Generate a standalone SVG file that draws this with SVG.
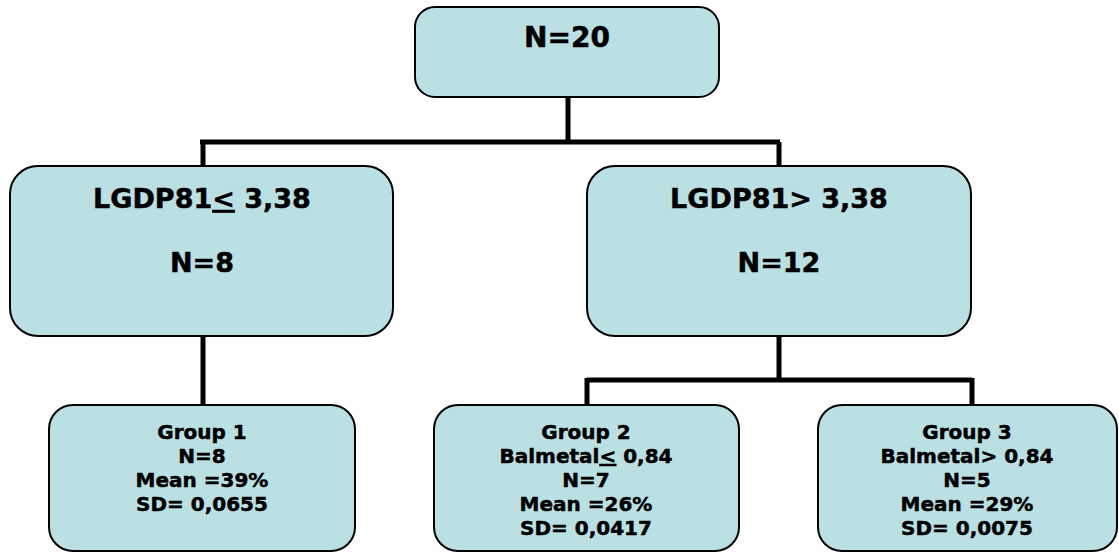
<svg xmlns="http://www.w3.org/2000/svg" width="1119" height="553" viewBox="0 0 1119 553">
<style>
.box{fill:#BBE0E3;stroke:#000;stroke-width:2}
.t{font-family:"DejaVu Sans","Verdana",sans-serif;font-weight:bold;fill:#000;stroke:#000;stroke-width:0.5;text-anchor:middle}
.big{font-size:28px}
.mid{font-size:27px}
.sm{font-size:20px}
.c{fill:none;stroke:#000;stroke-width:5;stroke-linecap:butt;stroke-linejoin:miter}
.u{text-decoration:underline}
</style>
<rect width="1119" height="553" fill="#fff"/>
<g id="connectors">
<path class="c" d="M568 97V142M200 142H780M203 142V166M779 142V166"/>
<path class="c" d="M203 336V405"/>
<path class="c" d="M779 336V380M587 380H972M587 378V405M972 378V405"/>
</g>
<g id="root">
<rect class="box" x="415" y="7" width="304" height="90" rx="20"/>
<text class="t big" x="567" y="47">N=20</text>
</g>
<g id="left">
<rect class="box" x="10" y="166" width="383" height="170" rx="28"/>
<text class="t mid" x="202" y="208">LGDP81<tspan class="u">&lt;</tspan> 3,38</text>
<text class="t mid" x="202" y="272">N=8</text>
</g>
<g id="right">
<rect class="box" x="587" y="166" width="384" height="170" rx="28"/>
<text class="t mid" x="779" y="208">LGDP81&gt; 3,38</text>
<text class="t mid" x="779" y="272">N=12</text>
</g>
<g id="group1">
<rect class="box" x="49" y="405" width="306" height="146" rx="24"/>
<text class="t sm" x="202" y="439">Group 1</text>
<text class="t sm" x="202" y="463">N=8</text>
<text class="t sm" x="202" y="487">Mean =39%</text>
<text class="t sm" x="202" y="511">SD= 0,0655</text>
</g>
<g id="group2">
<rect class="box" x="434" y="405" width="305" height="146" rx="24"/>
<text class="t sm" x="586" y="439">Group 2</text>
<text class="t sm" x="586" y="463">Balmetal<tspan class="u">&lt;</tspan> 0,84</text>
<text class="t sm" x="586" y="487">N=7</text>
<text class="t sm" x="586" y="511">Mean =26%</text>
<text class="t sm" x="586" y="535">SD= 0,0417</text>
</g>
<g id="group3">
<rect class="box" x="818" y="405" width="299" height="146" rx="24"/>
<text class="t sm" x="967" y="439">Group 3</text>
<text class="t sm" x="967" y="463">Balmetal&gt; 0,84</text>
<text class="t sm" x="967" y="487">N=5</text>
<text class="t sm" x="967" y="511">Mean =29%</text>
<text class="t sm" x="967" y="535">SD= 0,0075</text>
</g>
</svg>
